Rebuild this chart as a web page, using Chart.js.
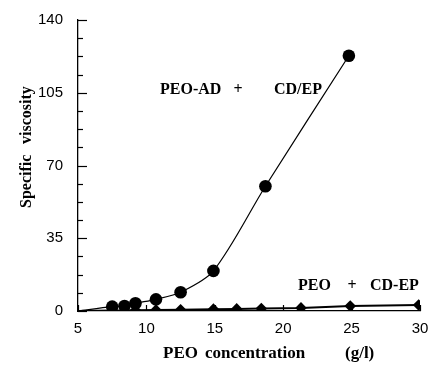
<!DOCTYPE html>
<html>
<head>
<meta charset="utf-8">
<script src="https://cdn.jsdelivr.net/npm/chart.js@4/dist/chart.umd.min.js"></script>
<style>
  html, body { margin: 0; padding: 0; background: #fff; }
  #wrap { width: 432px; height: 368px; position: relative; }
</style>
</head>
<body>
<div id="wrap"><canvas id="c" width="432" height="368"></canvas></div>
<script>
// PEO-AD + CD/EP (filled circles)
const concAD = [7.5, 8.4, 9.2, 10.7, 12.5, 14.9, 18.7, 24.8];
const viscAD = [2.1, 2.4, 3.7, 5.6, 9.0, 19.3, 60.0, 122.8];
// PEO + CD-EP (filled diamonds)
const concPEO = [7.5, 8.4, 9.2, 10.7, 12.5, 14.9, 16.6, 18.4, 21.3, 24.9, 29.9];
const viscPEO = [0.3, 0.3, 0.4, 0.5, 0.6, 0.9, 1.0, 1.2, 1.5, 2.4, 2.9];
// fitted curves start at the origin of the concentration axis
const curveStartConc = 5;
const curveStartVisc = 0;
// axes
const xTicks = [5, 10, 15, 20, 25, 30];
const yTicks = [0, 35, 70, 105, 140];
const yMinorStep = 8.75;

function series(xs, ys) {
  return [{x: curveStartConc, y: curveStartVisc}].concat(xs.map((x, i) => ({x, y: ys[i]})));
}

const SERIF = '"Liberation Serif", "Times New Roman", serif';

const decor = {
  id: 'decor',
  afterDraw(chart) {
    const ctx = chart.ctx;
    const xs = chart.scales.x, ys = chart.scales.y;
    const a = chart.chartArea;
    ctx.save();
    ctx.strokeStyle = '#000';
    ctx.lineWidth = 1.2;
    // inward y ticks
    for (let v = 0; v <= 140 + 1e-6; v += yMinorStep) {
      const py = Math.round(ys.getPixelForValue(v)) + 0.5;
      const major = yTicks.some(t => Math.abs(t - v) < 1e-6);
      ctx.beginPath();
      ctx.moveTo(a.left, py);
      ctx.lineTo(a.left + (major ? 9 : 5), py);
      ctx.stroke();
    }
    // inward x ticks
    xTicks.forEach(t => {
      const px = Math.round(xs.getPixelForValue(t)) + 0.5;
      ctx.beginPath();
      ctx.moveTo(px, a.bottom);
      ctx.lineTo(px, a.bottom - 6);
      ctx.stroke();
    });
    // texts
    ctx.fillStyle = '#000';
    ctx.font = 'bold 16px ' + SERIF;
    ctx.textBaseline = 'alphabetic';
    ctx.textAlign = 'left';
    ctx.fillText('PEO-AD', 160, 94);
    ctx.textAlign = 'center';
    ctx.fillText('+', 238, 94);
    ctx.textAlign = 'left';
    ctx.fillText('CD/EP', 274, 94);

    ctx.fillText('PEO', 298, 290);
    ctx.textAlign = 'center';
    ctx.fillText('+', 352, 290);
    ctx.textAlign = 'left';
    ctx.fillText('CD-EP', 370, 290);

    // x axis title
    ctx.font = 'bold 17px ' + SERIF;
    ctx.fillText('PEO', 163, 358);
    ctx.fillText('concentration', 205, 358);
    ctx.fillText('(g/l)', 345, 358);

    // y axis title
    ctx.save();
    ctx.translate(31, 208);
    ctx.rotate(-Math.PI / 2);
    ctx.textAlign = 'left';
    ctx.font = 'bold 16px ' + SERIF;
    ctx.fillText('Specific', 0, 0);
    ctx.fillText('viscosity', 64, 0);
    ctx.restore();
    ctx.restore();
  }
};

new Chart(document.getElementById('c'), {
  type: 'line',
  data: {
    datasets: [
      {
        label: 'PEO-AD + CD/EP',
        data: series(concAD, viscAD),
        borderColor: '#000',
        backgroundColor: '#000',
        borderWidth: 1.2,
        tension: 0.3,
        pointStyle: 'circle',
        pointRadius: c => c.dataIndex === 0 ? 0 : 6.3,
        pointBorderWidth: 0
      },
      {
        label: 'PEO + CD-EP',
        data: series(concPEO, viscPEO),
        borderColor: '#000',
        backgroundColor: '#000',
        borderWidth: 2,
        tension: 0,
        pointStyle: 'rectRot',
        pointRadius: c => c.dataIndex === 0 ? 0 : 5.8,
        pointBorderWidth: 0
      }
    ]
  },
  options: {
    responsive: false,
    animation: false,
    events: [],
    layout: { padding: { top: 20, right: 12, left: 0, bottom: 0 } },
    plugins: { legend: { display: false }, tooltip: { enabled: false } },
    scales: {
      x: {
        type: 'linear',
        min: 5, max: 30,
        afterBuildTicks: s => { s.ticks = xTicks.map(v => ({value: v})); },
        afterFit: s => { s.height = 57; s.paddingLeft = 0; s.paddingRight = 0; },
        grid: { drawOnChartArea: false, drawTicks: false },
        border: { display: true, color: '#000', width: 1.3 },
        ticks: { color: '#000', font: { family: '"Liberation Sans", Arial, sans-serif', size: 15 }, padding: 9, maxRotation: 0 }
      },
      y: {
        min: 0, max: 140,
        afterBuildTicks: s => { s.ticks = yTicks.map(v => ({value: v})); },
        afterFit: s => { s.width = 78; s.paddingTop = 0; s.paddingBottom = 0; },
        grid: { drawOnChartArea: false, drawTicks: false },
        border: { display: true, color: '#000', width: 1.3 },
        ticks: { color: '#000', font: { family: '"Liberation Sans", Arial, sans-serif', size: 15 }, padding: 15 }
      }
    }
  },
  plugins: [decor]
});
</script>
</body>
</html>
